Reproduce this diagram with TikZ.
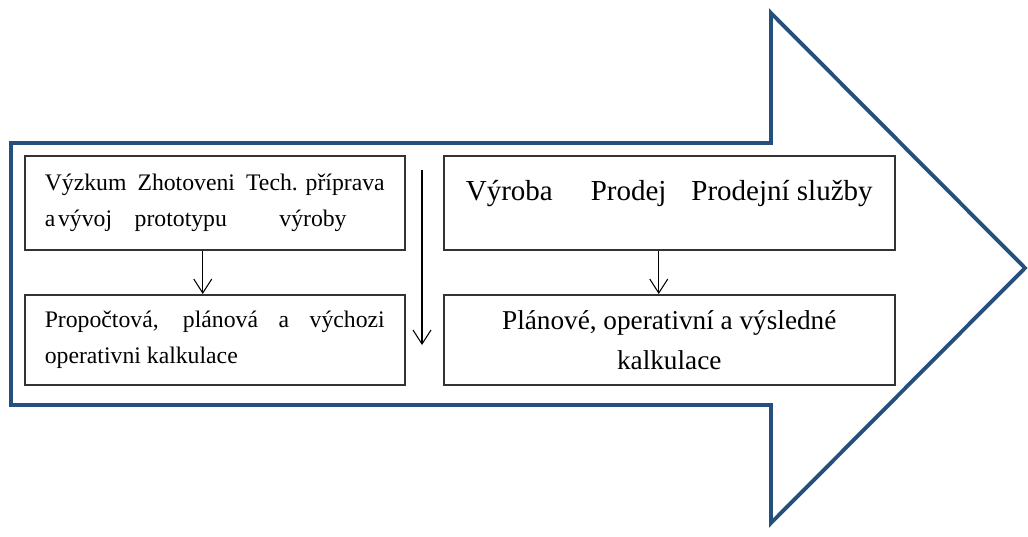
\documentclass[tikz,border=0pt]{standalone}
\usepackage{fontspec}
\setmainfont{Liberation Serif}
\newfontfamily\timesfont{Liberation Serif}
\usetikzlibrary{arrows.meta}
\definecolor{arrowblue}{RGB}{37,80,125}

\begin{document}
\begin{tikzpicture}[x=0.02cm, y=-0.02cm,
    box/.style={draw=black!80, line width=0.9pt, anchor=north west, inner sep=0pt},
    small/.style={font=\timesfont\fontsize{13.5}{21}\selectfont},
    flow/.style={-{Straight Barb[length=0.28cm,width=0.36cm]}, line width=0.6pt}]
            \useasboundingbox (0,0) rectangle (1028,537);

            % the big arrow
            \draw[arrowblue, line width=2.2pt, line join=miter]
                (11,143) -- (771,143) -- (771,13) -- (1025,268) -- (771,523) -- (771,405) -- (11,405) -- cycle;

            % left part
            \node[box, small, minimum width=7.6cm, minimum height=1.88cm,
                text width=6.8cm, align=justify] (vyvoj) at (24,155)
                {Výzkum Zhotoveni \mbox{Tech. příprava}\linebreak
                 a\hspace{0.12em}vývoj\hspace{0.45cm}prototypu\hspace{1.05cm}výroby};
            \node[box, small, minimum width=7.6cm, minimum height=1.8cm,
                text width=6.8cm, align=justify] (kalk) at (24,294)
                {Propočtová, plánová a výchozi\linebreak operativni kalkulace};

            % right part
            \node[box, font=\timesfont\fontsize{16.5}{19}\selectfont, minimum width=9.02cm, minimum height=1.88cm,
                text height=0.45cm, text depth=0.55cm] (vyroba) at (443,155)
                {Výroba\hspace{0.76cm}Prodej\hspace{0.5cm}Prodejní služby};
            \node[box, font=\timesfont\fontsize{15.5}{22.7}\selectfont, minimum width=9.02cm, minimum height=1.8cm,
                align=center] (vysl) at (443,294)
                {Plánové, operativní a výsledné\\kalkulace};

            \coordinate (top) at (422,170);
            \coordinate (bottom) at (422,345);

            \draw[flow] ([xshift=-0.24cm]vyvoj.south) -- ([xshift=-0.24cm]kalk.north);
            \draw[flow] ([xshift=-0.21cm]vyroba.south) -- ([xshift=-0.21cm]vysl.north);
            \draw[flow] (top) -- (bottom);
      \end{tikzpicture}
\end{document}
